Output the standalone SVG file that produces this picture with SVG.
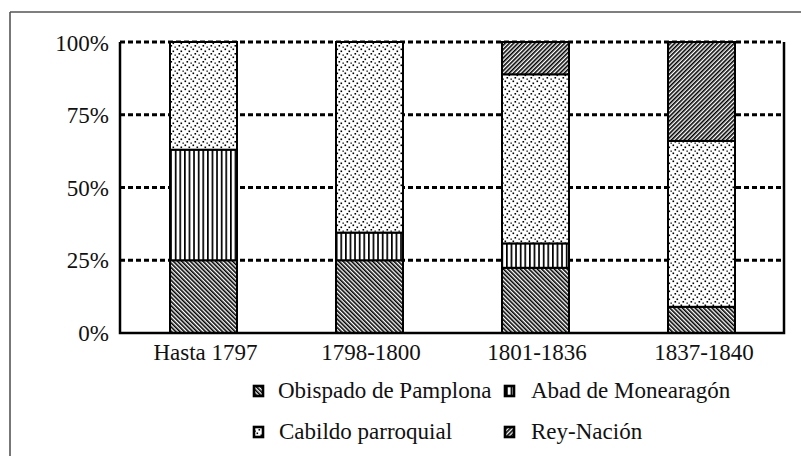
<svg xmlns="http://www.w3.org/2000/svg" width="801" height="456" viewBox="0 0 801 456" font-family="'Liberation Serif', 'DejaVu Serif', serif">
<style>
text{font-family:'Liberation Serif','DejaVu Serif',serif;font-size:23px;fill:#111}
.grid{stroke:#000;stroke-width:3;stroke-dasharray:5 3;fill:none}
.axis{stroke:#000;stroke-width:2.5;fill:none}
.seg{stroke:#000;stroke-width:2}
.icon{stroke:#000;stroke-width:2.6}
.frame{stroke:#555;stroke-width:1.6;fill:none}
.ylab{text-anchor:end}
.xlab{text-anchor:middle}
.ob{fill:url(#pOb)}
.ab{fill:url(#pAb)}
.ca{fill:url(#pCa)}
.re{fill:url(#pRe)}
</style>
<defs>
<pattern id="pOb" patternUnits="userSpaceOnUse" width="3" height="3" patternTransform="rotate(-45)">
<rect width="3" height="3" fill="#fff"/>
<rect width="1.6" height="3" fill="#000"/>
</pattern>
<pattern id="pRe" patternUnits="userSpaceOnUse" width="3" height="3" patternTransform="rotate(45)">
<rect width="3" height="3" fill="#fff"/>
<rect width="1.6" height="3" fill="#000"/>
</pattern>
<pattern id="pAb" patternUnits="userSpaceOnUse" width="4.6" height="4">
<rect width="4.6" height="4" fill="#fff"/>
<rect width="1.7" height="4" fill="#000"/>
</pattern>
<pattern id="pCa" patternUnits="userSpaceOnUse" width="8" height="8">
<rect width="8" height="8" fill="#fff"/>
<rect x="0.5" y="0.5" width="1.6" height="1.6" fill="#000"/>
<rect x="4.5" y="2.5" width="1.6" height="1.6" fill="#000"/>
<rect x="2.5" y="5" width="1.6" height="1.6" fill="#000"/>
<rect x="6.5" y="6.5" width="1.3" height="1.3" fill="#000"/>
</pattern>
</defs>
<g id="frame">
<line class="frame" x1="10" y1="12" x2="801" y2="12"/>
<line class="frame" x1="10" y1="12" x2="10" y2="456"/>
</g>
<g id="gridlines">
<line class="grid" x1="120" y1="42" x2="784" y2="42"/>
<line class="grid" x1="120" y1="114.75" x2="784" y2="114.75"/>
<line class="grid" x1="120" y1="187.5" x2="784" y2="187.5"/>
<line class="grid" x1="120" y1="260.25" x2="784" y2="260.25"/>
</g>
<g id="bar-hasta-1797">
<rect class="seg ob" x="170" y="260.25" width="67" height="72.75"/>
<rect class="seg ab" x="170" y="149.7" width="67" height="110.55"/>
<rect class="seg ca" x="170" y="42" width="67" height="107.7"/>
</g>
<g id="bar-1798-1800">
<rect class="seg ob" x="336" y="260.25" width="67" height="72.75"/>
<rect class="seg ab" x="336" y="232.6" width="67" height="27.65"/>
<rect class="seg ca" x="336" y="42" width="67" height="190.6"/>
</g>
<g id="bar-1801-1836">
<rect class="seg ob" x="502" y="267.8" width="67" height="65.2"/>
<rect class="seg ab" x="502" y="243.4" width="67" height="24.4"/>
<rect class="seg ca" x="502" y="74.3" width="67" height="169.1"/>
<rect class="seg re" x="502" y="42" width="67" height="32.3"/>
</g>
<g id="bar-1837-1840">
<rect class="seg ob" x="668" y="306.8" width="67" height="26.2"/>
<rect class="seg ca" x="668" y="140.9" width="67" height="165.9"/>
<rect class="seg re" x="668" y="42" width="67" height="98.9"/>
</g>
<g id="axes">
<polyline class="axis" points="120,42 120,333 784,333 784,42"/>
</g>
<g id="y-labels">
<text class="ylab" x="109" y="51">100%</text>
<text class="ylab" x="109" y="123">75%</text>
<text class="ylab" x="109" y="196">50%</text>
<text class="ylab" x="109" y="268">25%</text>
<text class="ylab" x="109" y="341">0%</text>
</g>
<g id="x-labels">
<text class="xlab" x="205.5" y="360">Hasta 1797</text>
<text class="xlab" x="371" y="360">1798-1800</text>
<text class="xlab" x="537" y="360">1801-1836</text>
<text class="xlab" x="704" y="360">1837-1840</text>
</g>
<g id="legend">
<g id="legend-obispado">
<rect class="icon ob" x="254" y="386" width="9" height="10"/>
<text x="278" y="398">Obispado de Pamplona</text>
</g>
<g id="legend-abad">
<rect class="icon ab" x="505" y="386" width="9" height="10"/>
<text x="531" y="398">Abad de Monearagón</text>
</g>
<g id="legend-cabildo">
<rect class="icon ca" x="254" y="427" width="9" height="10"/>
<text x="279" y="439">Cabildo parroquial</text>
</g>
<g id="legend-rey">
<rect class="icon re" x="505" y="427" width="9" height="10"/>
<text x="531" y="439">Rey-Nación</text>
</g>
</g>
</svg>
